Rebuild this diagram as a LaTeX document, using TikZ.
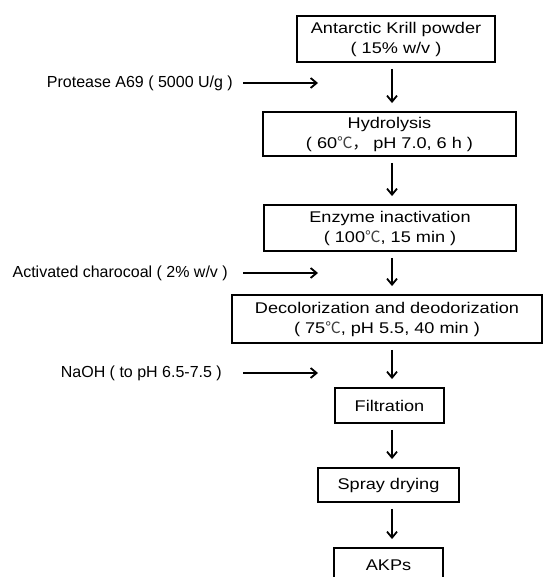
\documentclass[tikz,border=0pt]{standalone}
\usepackage{fontspec}
\setmainfont{Liberation Sans}
\newfontfamily\boxfont[FakeStretch=1.17]{Liberation Sans}
\newfontfamily\cjk{Noto Sans CJK SC}
\newcommand{\degc}{{\cjk\color{black!75}℃}}
\usetikzlibrary{arrows.meta}
\begin{document}
\begin{tikzpicture}[x=1pt,y=-1pt,
  stepbox/.style={draw, line width=1.9pt, inner sep=0pt, align=center,
    font=\boxfont\fontsize{15.5}{20}\selectfont},
  side/.style={inner sep=0pt, anchor=east, font=\fontsize{16}{19}\selectfont},
  arr/.style={line width=1.8pt, -{Straight Barb[length=6pt,width=10pt,line width=1.8pt]}},
  down/.style={arr, shorten <=6pt, shorten >=8pt}]
\useasboundingbox (0,0) rectangle (544,577);
\clip (0,0) rectangle (544,577);
\node[stepbox, minimum width=198pt, minimum height=46pt] (n1) at (396,39)
  {Antarctic Krill powder\\( 15\% w/v )};
\node[stepbox, minimum width=253pt, minimum height=44pt] (n2) at (389.5,134)
  {Hydrolysis\\( 60{\degc\cjk ，}\ pH 7.0, 6 h )};
\node[stepbox, minimum width=252pt, minimum height=46pt] (n3) at (390,228)
  {Enzyme inactivation\\( 100\degc, 15 min )};
\node[stepbox, minimum width=310pt, minimum height=48pt] (n4) at (387,319)
  {Decolorization and deodorization\\( 75\degc, pH 5.5, 40 min )};
\node[stepbox, minimum width=109pt, minimum height=35pt] (n5) at (389.5,405.5)
  {Filtration};
\node[stepbox, minimum width=141pt, minimum height=34pt] (n6) at (388.5,485)
  {Spray drying};
\node[stepbox, minimum width=109pt, minimum height=35pt] (n7) at (388.5,565.5)
  {AKPs};
\coordinate (ax) at (392,0);
\draw[down] (n1.south -| ax) -- (n2.north -| ax);
\draw[down] (n2.south -| ax) -- (n3.north -| ax);
\draw[down] (n3.south -| ax) -- (n4.north -| ax);
\draw[down] (n4.south -| ax) -- (n5.north -| ax);
\draw[down] (n5.south -| ax) -- (n6.north -| ax);
\draw[down] (n6.south -| ax) -- (n7.north -| ax);
\node[side] (s1) at (233,83) {Protease A69 ( 5000 U/g )};
\node[side] (s2) at (228,273) {Activated charocoal ( 2\% w/v )};
\node[side] (s3) at (222,373) {NaOH ( to pH 6.5-7.5 )};
\coordinate (e1) at (318,83);
\coordinate (e2) at (318,273);
\coordinate (e3) at (318,373);
\draw[arr] ([xshift=10pt]s1.east) -- (e1);
\draw[arr] ([xshift=15pt]s2.east) -- (e2);
\draw[arr] ([xshift=21pt]s3.east) -- (e3);
\end{tikzpicture}
\end{document}
